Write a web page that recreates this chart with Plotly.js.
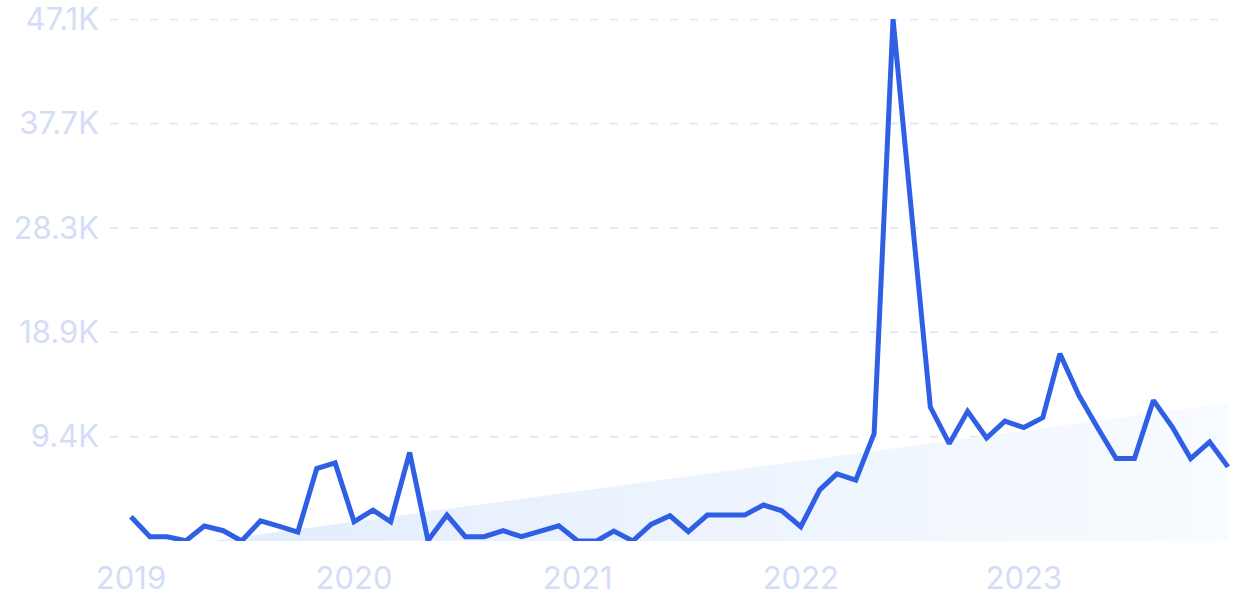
<!DOCTYPE html>
<html>
<head>
<meta charset="utf-8">
<script src="https://cdn.plot.ly/plotly-3.0.1.min.js"></script>
<style>
  html, body { margin: 0; padding: 0; background: #ffffff; }
  #chart { width: 1234px; height: 616px; }
</style>
</head>
<body>
<div id="chart"></div>
<script>
const months = [
  "2019-01","2019-02","2019-03","2019-04","2019-05","2019-06","2019-07","2019-08","2019-09","2019-10","2019-11","2019-12",
  "2020-01","2020-02","2020-03","2020-04","2020-05","2020-06","2020-07","2020-08","2020-09","2020-10","2020-11","2020-12",
  "2021-01","2021-02","2021-03","2021-04","2021-05","2021-06","2021-07","2021-08","2021-09","2021-10","2021-11","2021-12",
  "2022-01","2022-02","2022-03","2022-04","2022-05","2022-06","2022-07","2022-08","2022-09","2022-10","2022-11","2022-12",
  "2023-01","2023-02","2023-03","2023-04","2023-05","2023-06","2023-07","2023-08","2023-09","2023-10","2023-11","2023-12"
];
const searches = [
  2190, 390, 390, 30, 1350, 930, 0, 1830, 1330, 810, 6550, 7060,
  1740, 2790, 1740, 8000, 50, 2340, 390, 390, 930, 390, 900, 1380,
  0, 0, 900, 0, 1500, 2280, 840, 2340, 2340, 2340, 3250, 2730,
  1290, 4620, 6070, 5500, 9710, 47150, 29800, 12100, 8800, 11720, 9310, 10840,
  10250, 11150, 16920, 13160, 10300, 7450, 7450, 12710, 10300, 7450, 8950, 6700
];
const trendX = ["2019-05-13", "2023-12-01"];
const trendY = [0, 12470];
const yTickVals = [9430, 18860, 28290, 37720, 47150];
const yTickText = ["9.4K", "18.9K", "28.3K", "37.7K", "47.1K"];
const xTickVals = ["2019-01-01", "2020-01-01", "2021-01-01", "2022-01-01", "2023-01-01"];
const xTickText = ["2019", "2020", "2021", "2022", "2023"];

const labelColor = "#d4ddf6";
const gridColor = "#dfe6f8";
const fontFam = "Inter, 'Noto Sans', sans-serif";

const shapes = yTickVals.map(v => ({
  type: "line", xref: "paper", yref: "y",
  x0: 0, x1: 0.989, y0: v, y1: v,
  line: { color: gridColor, width: 2, dash: "8px,12px" },
  layer: "below"
}));

const traces = [
  {
    type: "scatter", mode: "lines",
    x: trendX, y: trendY,
    fill: "tozeroy",
    fillgradient: { type: "horizontal", colorscale: [[0, "#e2edfc"], [1, "#f8fbff"]] },
    line: { width: 0, color: "rgba(0,0,0,0)" },
    hoverinfo: "skip"
  },
  {
    type: "scatter", mode: "lines",
    x: months, y: searches,
    line: { color: "#2f5fe5", width: 5, shape: "linear" }
  }
];

const layout = {
  width: 1234, height: 616,
  margin: { l: 110, r: 4, t: 19, b: 75 },
  paper_bgcolor: "#ffffff", plot_bgcolor: "#ffffff",
  showlegend: false,
  font: { family: fontFam, color: labelColor },
  xaxis: {
    type: "date",
    range: ["2018-11-27 16:00", "2023-12-04 08:00"],
    tickmode: "array", tickvals: xTickVals, ticktext: xTickText,
    showgrid: false, zeroline: false, showline: false, ticks: "",
    tickfont: { size: 31, color: labelColor, family: fontFam },
    ticklabelstandoff: 16
  },
  yaxis: {
    range: [0, 47170],
    tickmode: "array", tickvals: yTickVals, ticktext: yTickText,
    showgrid: false, zeroline: false, showline: false, ticks: "",
    tickfont: { size: 31, color: labelColor, family: fontFam },
    ticklabelstandoff: 10,
    ticklabeloverflow: "allow"
  },
  shapes: shapes
};

Plotly.newPlot("chart", traces, layout, { displayModeBar: false, staticPlot: true });
</script>
</body>
</html>
